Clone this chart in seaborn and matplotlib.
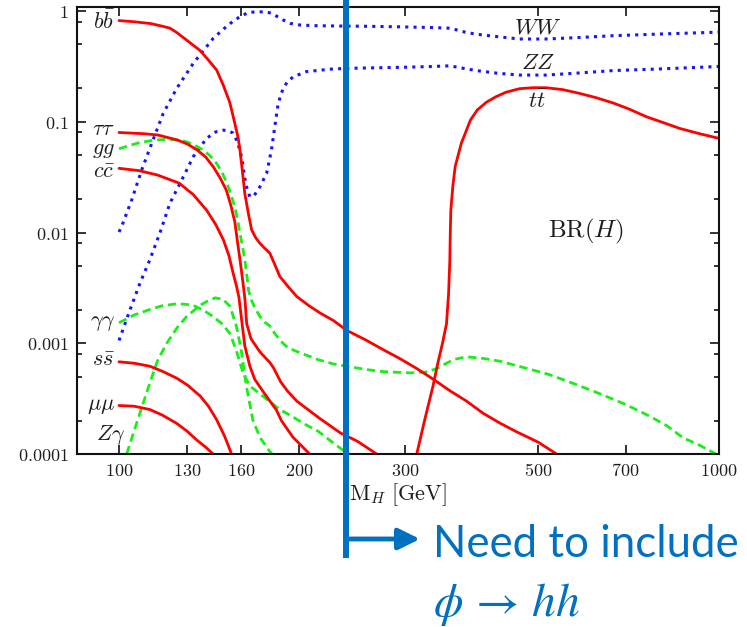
import numpy as np
import pandas as pd
import matplotlib
matplotlib.use("Agg")
import matplotlib.pyplot as plt
import seaborn as sns
from matplotlib.ticker import FixedLocator, NullLocator, NullFormatter
from matplotlib.patches import FancyArrowPatch
from matplotlib.lines import Line2D
import matplotlib.transforms as mtransforms

# ---------------- data (M_H in GeV, branching ratio) ----------------
M_bb = [100, 106, 113, 118, 121.6, 124.8, 130, 136.5, 141, 145.5, 149.2, 153, 156, 158,
        159.1, 160.8, 162.1, 164.3, 166.4, 169, 171.8, 175, 178.5, 182, 185.5, 191, 197.8,
        207, 216.3, 228, 239.6, 258, 276, 295, 314, 335, 356, 380, 405, 432, 460, 500, 537]
BR_bb = [0.82, 0.80, 0.77, 0.73, 0.70, 0.64, 0.54, 0.44, 0.36, 0.293, 0.215, 0.15, 0.097, 0.072,
         0.056, 0.034, 0.0226, 0.015, 0.0106, 0.009, 0.008, 0.0072, 0.0065, 0.0051, 0.0040, 0.0033, 0.00265,
         0.0022, 0.00188, 0.0016, 0.00131, 0.00107, 0.000874, 0.00072, 0.00059, 0.00047, 0.000374, 0.0003,
         0.000233, 0.00019, 0.000159, 0.000128, 0.0001]

M_tautau = [100, 110, 116, 125, 130, 135, 139.5, 143.6, 147.5, 151, 153.5, 156, 158, 159.5, 161,
            162.2, 163.3, 166, 169.5, 172, 178.5, 181, 186, 191, 198, 207, 216, 234, 250, 269]
BR_tautau = [0.080, 0.078, 0.076, 0.0686, 0.063, 0.0556, 0.048, 0.0393, 0.031, 0.0241, 0.018, 0.0125,
             0.0075, 0.0052, 0.0035, 0.0025, 0.0015, 0.0011, 0.00093, 0.00083, 0.00067, 0.0006, 0.00045,
             0.00037, 0.0003, 0.00025, 0.00021, 0.000155, 0.00013, 0.0001]

M_cc = [100, 108, 116, 126, 133, 140, 145, 149.3, 152.5, 155, 157, 158.5, 160.1, 162.1, 165.3,
        168.5, 172, 176.3, 183, 186.6, 195, 208]
BR_cc = [0.038, 0.0362, 0.033, 0.0279, 0.022, 0.0159, 0.0118, 0.0086, 0.0062, 0.0043, 0.0033, 0.0026,
         0.00165, 0.00095, 0.00062, 0.00047, 0.0004, 0.00033, 0.00025, 0.0002, 0.000142, 0.0001]

M_ss = [100, 106, 112.6, 118, 124.8, 130, 136.5, 141, 145.5, 150, 154.1]
BR_ss = [0.00068, 0.00066, 0.00062, 0.00056, 0.000484, 0.00042, 0.000335, 0.00027, 0.000204, 0.000145, 0.0001]

M_mumu = [100, 106, 112.6, 118, 124.8, 130, 134.7, 139, 143.6]
BR_mumu = [0.000274, 0.00027, 0.000252, 0.000225, 0.000189, 0.00016, 0.000134, 0.000117, 0.0001]

M_gg = [100, 104, 108.4, 114, 120, 125, 129.6, 134, 138.2, 142, 145.5, 148.5, 151.3, 153.8, 156,
        157.7, 159.1, 160.7, 162.1, 163.3, 164.5, 166, 168.5, 171.8, 175, 178.5, 182, 186, 190,
        196, 203, 215, 228, 240, 258, 276, 306, 325, 339, 350, 361, 373, 385, 405, 431, 475,
        523, 575, 634, 700, 767, 820, 873, 930, 990]
BR_gg = [0.057, 0.061, 0.065, 0.068, 0.0695, 0.0685, 0.066, 0.061, 0.0556, 0.049, 0.042, 0.035, 0.028,
         0.022, 0.017, 0.013, 0.0099, 0.0075, 0.0057, 0.0042, 0.0030, 0.0025, 0.0021, 0.00174, 0.00155,
         0.00143, 0.00122, 0.00105, 0.00094, 0.00086, 0.0008, 0.00071, 0.00065, 0.00062, 0.00058,
         0.000554, 0.00054, 0.00055, 0.00059, 0.00065, 0.00071, 0.00074, 0.00075, 0.00073, 0.00069,
         0.0006, 0.00052, 0.00043, 0.00035, 0.00028, 0.00022, 0.00018, 0.00014, 0.00012, 0.0001]

M_gamgam = [100, 106, 112, 118, 124.8, 129, 133, 138, 143.6, 148.5, 153.2, 157, 161.2, 165.3,
            171.8, 178, 185.5, 194, 203, 215, 226, 236.5, 242]
BR_gamgam = [0.00153, 0.0018, 0.002, 0.00218, 0.00227, 0.00225, 0.0022, 0.002, 0.00174, 0.0015,
             0.00122, 0.00085, 0.00053, 0.00041, 0.00035, 0.0003, 0.000252, 0.00022, 0.000189,
             0.00016, 0.00013, 0.000108, 0.0001]

M_Zgam = [103, 107, 112.6, 116, 120.1, 125, 129.6, 136.5, 140.5, 144.6, 149, 153.2, 157, 160.1,
          163.1, 167.3, 172, 178.5, 180]
BR_Zgam = [0.0001, 0.00019, 0.00044, 0.0007, 0.001, 0.00138, 0.00174, 0.0022, 0.0024, 0.00257,
           0.0025, 0.00215, 0.00142, 0.00083, 0.00041, 0.0002, 0.00014, 0.000105, 0.0001]

M_WW = [100, 101, 105, 109.1, 113.4, 118.5, 124.8, 133, 143.6, 150, 155, 159.1, 164.3, 170,
        176.3, 179.6, 183.1, 187.9, 192.8, 200.1, 213.5, 233.6, 260, 293.8, 330, 356.3, 368,
        379.7, 393, 404.9, 428.6, 466, 516, 580, 669, 800, 978, 1000]
BR_WW = [0.0101, 0.0113, 0.0197, 0.0367, 0.064, 0.119, 0.2, 0.337, 0.567, 0.70, 0.81, 0.888, 0.97,
         0.985, 0.98, 0.953, 0.90, 0.83, 0.775, 0.748, 0.737, 0.732, 0.728, 0.72, 0.71, 0.70, 0.67,
         0.64, 0.62, 0.607, 0.586, 0.559, 0.559, 0.575, 0.599, 0.62, 0.642, 0.645]

M_ZZ = [100, 104.3, 108.4, 112.6, 117, 121.6, 128, 133, 140, 145, 149.3, 152.2, 155, 157, 159.1,
        160.5, 162.1, 163.5, 165.3, 168, 171.8, 176.3, 179.6, 181.9, 184.3, 187.8, 191, 195.3,
        205.6, 227.5, 250, 293.8, 330, 356.3, 368, 379.7, 400, 428.6, 466, 516, 580, 669, 800, 978, 1000]
BR_ZZ = [0.00106, 0.002, 0.0035, 0.0057, 0.0099, 0.0184, 0.0318, 0.0484, 0.0709, 0.081, 0.084, 0.083,
         0.079, 0.0686, 0.0556, 0.045, 0.031, 0.025, 0.021, 0.0215, 0.0259, 0.0343, 0.0556, 0.0902,
         0.147, 0.2, 0.23, 0.255, 0.284, 0.30, 0.305, 0.31, 0.315, 0.32, 0.31, 0.30, 0.287, 0.274,
         0.264, 0.264, 0.275, 0.29, 0.30, 0.314, 0.316]

M_tt = [313.8, 323.3, 334, 340, 346.4, 351.8, 354.6, 356.3, 357, 357.7, 360.4, 363.7, 372.4, 385.8,
        396, 410, 425, 442.3, 466, 490, 516, 550, 585, 625, 669, 710, 758, 810, 862, 930, 1000]
BR_tt = [0.0001, 0.0002, 0.00041, 0.00065, 0.001, 0.0015, 0.0028, 0.0056, 0.0105, 0.0159, 0.026,
         0.0394, 0.064, 0.104, 0.128, 0.15, 0.168, 0.185, 0.199, 0.203, 0.203, 0.195, 0.181, 0.165,
         0.147, 0.13, 0.111, 0.098, 0.087, 0.078, 0.071]

X_TICKS = [100, 130, 160, 200, 300, 500, 700, 1000]
Y_TICKS = [0.0001, 0.001, 0.01, 0.1, 1]
Y_TICK_LABELS = ["0.0001", "0.001", "0.01", "0.1", "1"]
HH_MASS = 239  # position of the vertical marker line

# ---------------- styling ----------------
sns.set_style("ticks")
plt.rcParams["mathtext.fontset"] = "cm"
plt.rcParams["font.family"] = ["DejaVu Sans"]

RED, GREEN, BLUE = "#ff0000", "#19ee19", "#1414ff"
ANN = "#0070c0"
TXT = "#1e1e1e"

fig = plt.figure(figsize=(7.47, 6.27), dpi=100)
ax = fig.add_axes([76.7 / 747, 1 - 454 / 627, (718.5 - 76.7) / 747, (454 - 6.7) / 627])

series = [
    (M_WW, BR_WW, "dot"), (M_ZZ, BR_ZZ, "dot"),
    (M_gg, BR_gg, "dash"), (M_gamgam, BR_gamgam, "dash"), (M_Zgam, BR_Zgam, "dash"),
    (M_bb, BR_bb, "solid"), (M_tautau, BR_tautau, "solid"), (M_cc, BR_cc, "solid"),
    (M_ss, BR_ss, "solid"), (M_mumu, BR_mumu, "solid"), (M_tt, BR_tt, "solid"),
]
colors = {"solid": RED, "dash": GREEN, "dot": BLUE}
for m, br, kind in series:
    sns.lineplot(x=m, y=br, ax=ax, color=colors[kind], lw=2.0, estimator=None,
                 sort=False, legend=False)
    line = ax.lines[-1]
    if kind == "dash":
        line.set_dashes((3.0, 1.7))
    elif kind == "dot":
        line.set_linewidth(2.2)
        line.set_dashes((1.0, 1.7))
        line.set_dash_capstyle("butt")

ax.set_xscale("log")
ax.set_yscale("log")
ax.set_xlim(85, 1000)
ax.set_ylim(1e-4, 1.094)

ax.xaxis.set_major_locator(FixedLocator(X_TICKS))
ax.set_xticklabels([rf"$\mathrm{{{t}}}$" for t in X_TICKS])
ax.xaxis.set_minor_locator(NullLocator())
ax.yaxis.set_major_locator(FixedLocator(Y_TICKS))
ax.set_yticklabels([rf"$\mathrm{{{t}}}$" for t in Y_TICK_LABELS])
ax.yaxis.set_minor_locator(FixedLocator([k * 10.0 ** e for e in range(-4, 0) for k in (2, 5, 8)]))
ax.yaxis.set_minor_formatter(NullFormatter())
ax.tick_params(which="both", direction="in", top=True, right=True, colors="#111111")
ax.tick_params(which="major", length=6.5, width=1.2, labelsize=13, pad=6, labelcolor=TXT)
ax.tick_params(which="minor", length=3.6, width=1.2)
for s in ax.spines.values():
    s.set_linewidth(1.5)
    s.set_color("#111111")
ax.grid(False)

ax.set_xlabel(r"$\mathrm{M}_H\ [\mathrm{GeV}]$", fontsize=16, color=TXT, labelpad=1)

# curve labels
left_labels = [
    (98.5, 0.81, r"$b\bar{b}$"), (98.5, 0.086, r"$\tau\tau$"), (98.5, 0.056, r"$gg$"),
    (98.5, 0.0355, r"$c\bar{c}$"), (98.5, 0.00152, r"$\gamma\gamma$"),
    (98.5, 0.00070, r"$s\bar{s}$"), (98.5, 0.00027, r"$\mu\mu$"), (102.3, 0.000148, r"$Z\gamma$"),
]
for x, y, t in left_labels:
    ax.text(x, y, t, ha="right", va="center", fontsize=16, color=TXT)
ax.text(500, 0.717, r"$WW$", ha="center", va="center", fontsize=16.5, color=TXT)
ax.text(500, 0.346, r"$ZZ$", ha="center", va="center", fontsize=16.5, color=TXT)
ax.text(500, 0.151, r"$t\bar{t}$", ha="center", va="center", fontsize=16.5, color=TXT)
ax.text(600, 0.0103, r"$\mathrm{BR}(H)$", ha="center", va="center", fontsize=18, color=TXT)

# annotation: vertical line, arrow and text
trans = mtransforms.blended_transform_factory(ax.transData, fig.transFigure)
fig.add_artist(Line2D([HH_MASS, HH_MASS], [1.0, 1 - 558 / 627], transform=trans,
                      color=ANN, lw=4.3, solid_capstyle="butt", zorder=10))
arrow = FancyArrowPatch((346 / 747, 1 - 539 / 627), (420 / 747, 1 - 539 / 627),
                        transform=fig.transFigure,
                        arrowstyle="-|>,head_length=0.65,head_width=0.32",
                        mutation_scale=20, lw=3.5, color=ANN, shrinkA=0, shrinkB=0, zorder=10)
fig.add_artist(arrow)
fig.text(433 / 747, 1 - 557 / 627, "Need to include", fontsize=31.5, family="Lato",
         color=ANN, ha="left", va="baseline")
fig.text(433 / 747, 1 - 616 / 627, r"$\phi\,\rightarrow\,hh$", fontsize=34, color=ANN,
         ha="left", va="baseline", math_fontfamily="stix")

fig.savefig("out.png", dpi=100)
